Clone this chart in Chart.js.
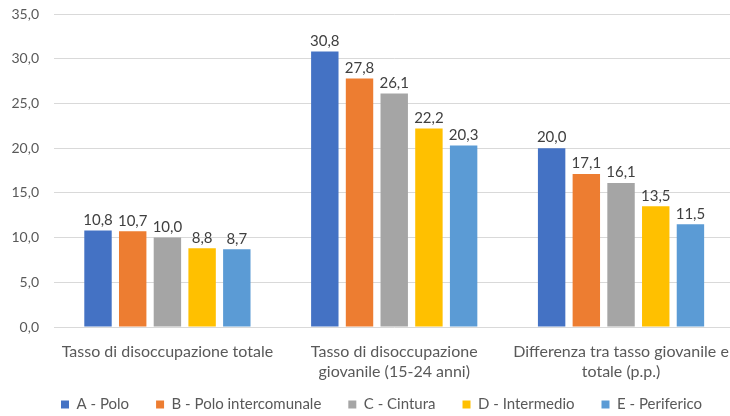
<!DOCTYPE html>
<html>
<head>
<meta charset="utf-8">
<script src="https://cdn.jsdelivr.net/npm/chart.js@4/dist/chart.umd.min.js"></script>
<style>
html,body{margin:0;padding:0;background:#fff;overflow:hidden;}
#wrap{width:745px;height:416px;}
</style>
</head>
<body>
<div id="wrap"><canvas id="c" width="745" height="416"></canvas></div>
<script>
const categories = [
  "Tasso di disoccupazione totale",
  ["Tasso di disoccupazione", "giovanile (15-24 anni)"],
  ["Differenza tra tasso giovanile e", "totale (p.p.)"]
];
const seriesNames = ["A - Polo", "B - Polo intercomunale", "C - Cintura", "D - Intermedio", "E - Periferico"];
const seriesColors = ["#4472C4", "#ED7D31", "#A5A5A5", "#FFC000", "#5B9BD5"];
const polo = [10.8, 30.8, 20.0];
const poloIntercomunale = [10.7, 27.8, 17.1];
const cintura = [10.0, 26.1, 16.1];
const intermedio = [8.8, 22.2, 13.5];
const periferico = [8.7, 20.3, 11.5];
const seriesValues = [polo, poloIntercomunale, cintura, intermedio, periferico];
const yMin = 0, yMax = 35, yStep = 5;

const fontFamily = "Lato, 'Open Sans', sans-serif";
const fmt = v => v.toFixed(1).replace('.', ',');

const valueLabels = {
  id: 'valueLabels',
  afterDatasetsDraw(chart) {
    const ctx = chart.ctx;
    ctx.save();
    ctx.font = "15px " + fontFamily;
    ctx.fillStyle = "#404040";
    ctx.textAlign = "center";
    ctx.textBaseline = "bottom";
    chart.data.datasets.forEach((ds, i) => {
      chart.getDatasetMeta(i).data.forEach((bar, j) => {
        ctx.fillText(fmt(ds.data[j]), bar.x, bar.y - 3);
      });
    });
    ctx.restore();
  }
};

const legendShift = {
  id: 'legendShift',
  afterLayout(chart) {
    if (chart.legend) {
      chart.legend.left = 34;
      chart.legend.top = 370;
    }
  }
};

new Chart(document.getElementById('c'), {
  type: 'bar',
  data: {
    labels: categories,
    datasets: seriesNames.map((n, i) => ({
      label: n,
      data: seriesValues[i],
      backgroundColor: seriesColors[i],
      borderWidth: 0,
      barPercentage: 0.79,
      categoryPercentage: 0.765
    }))
  },
  options: {
    responsive: false,
    animation: false,
    devicePixelRatio: 1,
    layout: { padding: { left: 0, right: 7, top: 14, bottom: -18 } },
    plugins: {
      tooltip: { enabled: false },
      legend: {
        position: 'bottom',
        align: 'start',
        labels: {
          boxWidth: 8, boxHeight: 8, padding: 27,
          color: "#595959",
          font: { family: fontFamily, size: 15 }
        }
      }
    },
    scales: {
      x: {
        grid: { display: false, drawTicks: false },
        border: { display: false },
        ticks: { color: "#595959", font: { family: fontFamily, size: 16, lineHeight: 1.25 }, padding: 15, maxRotation: 0, autoSkip: false },
        afterFit(s) { s.height = 55; }
      },
      y: {
        min: yMin, max: yMax,
        grid: { color: "#D9D9D9", drawTicks: true, tickLength: 14, tickColor: "rgba(0,0,0,0)" },
        border: { display: false },
        ticks: { stepSize: yStep, color: "#595959", font: { family: fontFamily, size: 14 }, padding: 1,
          callback: v => fmt(v) },
        afterFit(s) { s.width = 54; }
      }
    }
  },
  plugins: [valueLabels, legendShift]
});
</script>
</body>
</html>
